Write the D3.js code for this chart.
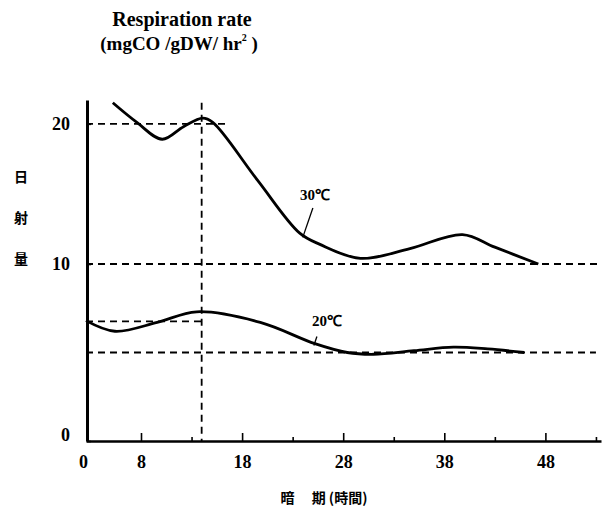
<!doctype html>
<meta charset="utf-8">
<style>
    body { margin: 0; background: #fff; }
    svg text { font-family: "Liberation Serif", "Times New Roman", serif; font-weight: bold; fill: #000; }
    svg text.cjk { font-family: "Noto Sans CJK JP", sans-serif; font-weight: bold; }
    .axis path, .axis line { fill: none; stroke: #000; }
    .dash { fill: none; stroke: #000; stroke-width: 1.8; stroke-dasharray: 7,5; }
    .curve { fill: none; stroke: #000; stroke-width: 2.8; stroke-linejoin: round; }
</style>
<body>
<script src="https://d3js.org/d3.v7.min.js"></script>
<script>
    const width = 603;
    const height = 517;

    // tick values / labels
    const xTicks = [8, 13, 18, 23, 28, 33, 38, 43, 48, 53];
    const xLabels = [0, 8, 18, 28, 38, 48];
    const yLabels = [0, 10, 20];

    // 30 C curve
    const hours30 = [3.9, 7.4, 10.1, 12.2, 14.1, 15.1, 19.5, 23.7, 25.7, 29.7, 34.6, 39.8, 43.0, 47.3];
    const rate30 = [21.5, 20.1, 18.9, 19.8, 20.4, 20.1, 16.0, 12.2, 11.4, 10.4, 11.1, 12.1, 11.2, 10.0];
    // 20 C curve
    const hours20 = [0, 4.2, 9.6, 13.5, 19.8, 25.2, 28.4, 31.0, 35.0, 38.9, 42.3, 45.9];
    const rate20 = [6.8, 6.2, 6.7, 7.3, 6.7, 5.5, 5.0, 4.9, 5.1, 5.3, 5.2, 5.0];

    // dashed reference levels: value, to hour
    const levelValues = [20, 10, 6.76, 5.0];
    const levelEnds = [16.5, 53.2, 14, 53];
    const darkHour = 14;

    // scales (hand drawn axes: the first segment is squeezed)
    const x = d3.scaleLinear().domain([0, 8, 53.5]).range([86, 141, 601]);
    const y = d3.scaleLinear().domain([0, 10, 21.7]).range([441, 264, 100]);

    const svg = d3.select('body')
        .append('svg')
        .attr('width', width)
        .attr('height', height);

    // title
    const title = svg.append('text').attr('text-anchor', 'middle');
    title.append('tspan').attr('x', 182).attr('y', 26).style('font-size', '20px').text('Respiration rate');
    const t2 = title.append('tspan').attr('x', 179).attr('y', 50).style('font-size', '19px').text('(mgCO /gDW/ hr');
    t2.append('tspan').attr('dy', -9).style('font-size', '10px').text('2');
    t2.append('tspan').attr('dy', 9).text(' )');

    // y label, vertical
    svg.append('g').selectAll('text')
        .data(['日', '射', '量'])
        .enter().append('text')
        .attr('class', 'cjk')
        .attr('x', 21)
        .attr('y', (d, i) => 182 + i * 41)
        .attr('text-anchor', 'middle')
        .style('font-size', '14px')
        .text(d => d);

    // x label
    svg.append('text')
        .attr('class', 'cjk')
        .attr('x', 324)
        .attr('y', 503)
        .attr('text-anchor', 'middle')
        .style('font-size', '14px')
        .style('white-space', 'pre')
        .text('暗　 期 (時間)');

    // reference dashed lines
    svg.append('g').selectAll('line')
        .data(levelValues)
        .enter().append('line')
        .attr('class', 'dash')
        .attr('x1', x(0))
        .attr('x2', (d, i) => x(levelEnds[i]))
        .attr('y1', d => y(d))
        .attr('y2', d => y(d));

    svg.append('line')
        .attr('class', 'dash')
        .attr('x1', x(darkHour)).attr('x2', x(darkHour))
        .attr('y1', y(21.5)).attr('y2', y(0));

    // curves
    const line = d3.line()
        .x(d => x(d[0]))
        .y(d => y(d[1]))
        .curve(d3.curveCatmullRom.alpha(0.5));

    svg.append('path').attr('class', 'curve')
        .attr('d', line(d3.zip(hours30, rate30)));
    svg.append('path').attr('class', 'curve')
        .attr('d', line(d3.zip(hours20, rate20)));

    // curve labels with leader lines (positions in data units)
    const notes = [
        {text: '30℃', at: [25.2, 14.55], from: [25.0, 14.0], to: [24.0, 11.9]},
        {text: '20℃', at: [26.4, 6.5], from: [25.4, 5.9], to: [25.1, 5.4]}
    ];
    notes.forEach(n => {
        svg.append('text')
            .attr('x', x(n.at[0]))
            .attr('y', y(n.at[1]))
            .attr('text-anchor', 'middle')
            .style('font-size', '15px')
            .text(n.text);
        svg.append('line')
            .attr('x1', x(n.from[0])).attr('y1', y(n.from[1]))
            .attr('x2', x(n.to[0])).attr('y2', y(n.to[1]))
            .attr('stroke', '#000').attr('stroke-width', 1.3);
    });

    // x axis
    const xAxis = svg.append('g')
        .attr('class', 'axis')
        .attr('transform', `translate(0, ${y(0)})`)
        .call(d3.axisBottom(x)
            .tickValues([0].concat(xTicks))
            .tickSize(-8)
            .tickSizeOuter(0)
            .tickPadding(14)
            .tickFormat(d => xLabels.includes(d) ? d : ''));
    xAxis.select('.domain').attr('stroke-width', 2.6);
    xAxis.selectAll('.tick line')
        .attr('stroke-width', 1.6)
        .attr('y2', d => d === 0 ? 0 : (d % 10 === 3 ? -4 : -8));
    xAxis.selectAll('.tick text')
        .attr('dx', d => d === 0 ? -3 : 0)
        .style('font-size', '18px')
        .style('font-family', null);

    // y axis
    const yAxis = svg.append('g')
        .attr('class', 'axis')
        .attr('transform', `translate(${x(0) + 1}, 0)`)
        .call(d3.axisLeft(y)
            .tickValues(yLabels)
            .tickSize(-4)
            .tickSizeOuter(0)
            .tickPadding(17));
    yAxis.select('.domain').attr('stroke-width', 3);
    yAxis.selectAll('.tick line').attr('stroke-width', 1.6);
    yAxis.selectAll('.tick text')
        .attr('dy', d => d === 0 ? '-0.05em' : '0.32em')
        .style('font-size', '18px');
</script>
